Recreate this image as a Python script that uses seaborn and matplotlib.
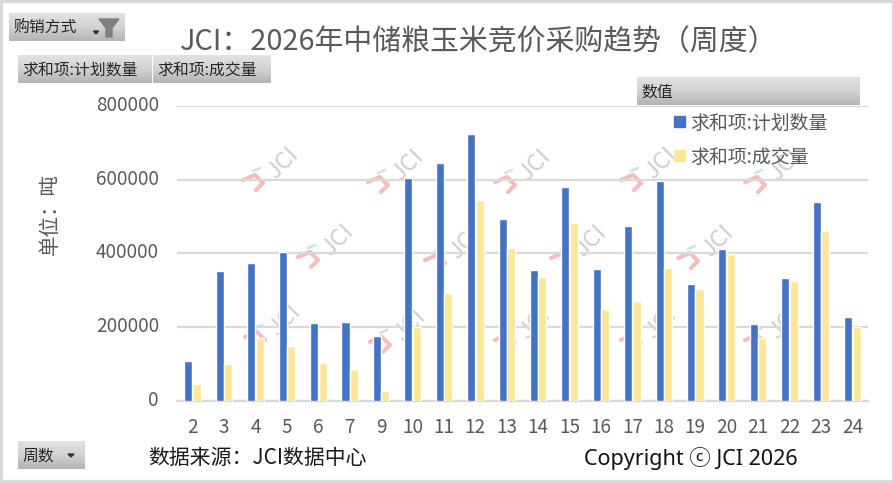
import numpy as np
import pandas as pd
import matplotlib
matplotlib.use("Agg")
import matplotlib.pyplot as plt
from matplotlib.patches import Polygon, Rectangle
from matplotlib.transforms import ScaledTranslation
import seaborn as sns

weeks = ["2","3","4","5","6","7","9","10","11","12","13","14","15","16","17","18","19","20","21","22","23","24"]
planned = [108000,351000,373000,403000,211000,214000,176000,605000,645000,725000,495000,354000,582000,359000,476000,597000,316000,411000,209000,334000,539000,228000]
traded = [45000,100000,170000,148000,103000,85000,25000,200000,293000,545000,416000,336000,482000,249000,271000,361000,304000,399000,170000,326000,461000,201000]
series_names = ["求和项:计划数量", "求和项:成交量"]
colors = ["#4472C4", "#FFE699"]

W, H = 894, 483
sns.set_theme(style="white")
plt.rcParams['font.family'] = ['Noto Sans CJK SC', 'DejaVu Sans']
TXT = "#595959"

fig = plt.figure(figsize=(W/100, H/100), dpi=100, facecolor="white")
ax = fig.add_axes([177/W, 1-400.5/H, (868-177)/W, (400.5-106.4)/H])

df = pd.DataFrame({
    "week": weeks*2,
    "series": [series_names[0]]*len(weeks) + [series_names[1]]*len(weeks),
    "value": planned + traded,
})
sns.barplot(data=df, x="week", y="value", hue="series", order=weeks, hue_order=series_names,
            palette=colors, width=0.54, gap=0.05, saturation=1, ax=ax, legend=False, zorder=3)
ax.set_ylim(0, 800000)
ax.set_xlim(-0.5, len(weeks)-0.5)
ax.set_yticks([0,200000,400000,600000,800000])
ax.set_yticklabels(["0","200000","400000","600000","800000"])
ax.yaxis.grid(True, color="#D9D9D9", lw=1.6, zorder=0)
ax.set_axisbelow(True)
ax.tick_params(axis="both", length=0, labelsize=13.6, labelcolor=TXT)
ax.tick_params(axis="x", pad=12)
ax.tick_params(axis="y", pad=13)
shift_up = ScaledTranslation(0, 3/100, fig.dpi_scale_trans)
for lab in ax.get_yticklabels():
    lab.set_transform(lab.get_transform() + shift_up)
for s in ["top","left","right"]:
    ax.spines[s].set_visible(False)
ax.spines["bottom"].set_color("#D9D9D9"); ax.spines["bottom"].set_linewidth(1.6)
ax.set_xlabel(""); ax.set_ylabel("")
ax.patch.set_alpha(0)

# overlay in pixel space
ov = fig.add_axes([0,0,1,1], zorder=5)
ov.set_xlim(0,W); ov.set_ylim(H,0); ov.axis("off"); ov.patch.set_alpha(0)
under = fig.add_axes([0,0,1,1], zorder=-1)
under.set_xlim(0,W); under.set_ylim(H,0); under.axis("off")

grad = np.linspace(0,1,32).reshape(-1,1)
cm = matplotlib.colors.LinearSegmentedColormap.from_list("b", ["#E2E2E2","#D2D2D2","#B4B4B4"])
def button(x0,y0,x1,y1,label,lx=None):
    ov.imshow(grad, extent=(x0,x1,y1,y0), cmap=cm, aspect="auto", zorder=1, vmin=0, vmax=1)
    ov.text(x0+4 if lx is None else lx, (y0+y1)/2+1.5, label, fontsize=11.4, color="#262626", va="center", ha="left", zorder=2)

button(9,13,125,41,"购销方式")
button(18,55,152,83,series_names[0])
button(153,55,271,83,series_names[1])
button(637,77,860,105,"数值")
button(18,441,85,469,"周数", lx=22)
ov.set_xlim(0,W); ov.set_ylim(H,0)

def arrow(cx, cy, s=3):
    ov.add_patch(Polygon([(cx-s,cy-1),(cx+s,cy-1),(cx,cy+2)], closed=True, color="#333333", zorder=3))
arrow(96,32,2.5)
arrow(71,455,3)
ov.add_patch(Polygon([(99,19),(119,19),(112,28),(112,37),(106,37),(106,28)], closed=True, color="#7F7F7F", zorder=3))

# title and notes
fig.text(479/W, 1-42/H, "JCI：2026年中储粮玉米竞价采购趋势（周度）", fontsize=20.8, color=TXT, ha="center", va="center", zorder=6)
fig.text(50/W, 1-214/H, "单位：吨", fontsize=14.8, color=TXT, rotation=90, ha="center", va="center", zorder=6)
fig.text(148/W, 1-458/H, "数据来源：JCI数据中心", fontsize=15, color="#1a1a1a", ha="left", va="center", zorder=6)
fig.text(584/W, 1-458/H, "Copyright ⓒ JCI 2026", fontsize=15.5, color="#111111", ha="left", va="center", zorder=6,
         family=['Noto Sans','Noto Sans CJK SC','DejaVu Sans'])

# legend
for (ly, c, name) in [(122, colors[0], series_names[0]), (156, colors[1], series_names[1])]:
    ov.add_patch(Rectangle((674,ly-6),11,11,color=c,zorder=3))
    ov.text(690, ly+1.5, name, fontsize=13.6, color=TXT, va="center", ha="left", zorder=3)

# watermarks, behind the bars
marks = [(270,170),(395,172),(522,172),(648,170),(772,172),
         (325,247),(452,250),(578,248),(705,248),
         (272,327),(397,332),(522,330),(648,330),(772,330)]
for mx,my in marks:
    under.text(mx+13,my-7,"JCI",fontsize=17,color="#CFCFCF",rotation=45,ha="center",va="center")
    under.plot([mx-27,mx-15,mx-7,mx-14],[my+10,my+5,my+13,my+20],color="#F7BDBD",lw=3,solid_capstyle="round",solid_joinstyle="round")
    under.plot([mx-17,mx-10],[my+1,my-2],color="#CDE8DC",lw=2)

# outer frame
ov.add_patch(Rectangle((1,1),W-2.5,H-3,fill=False,ec="#D9D9D9",lw=2.4,zorder=4))

fig.savefig("out.png", dpi=100)
